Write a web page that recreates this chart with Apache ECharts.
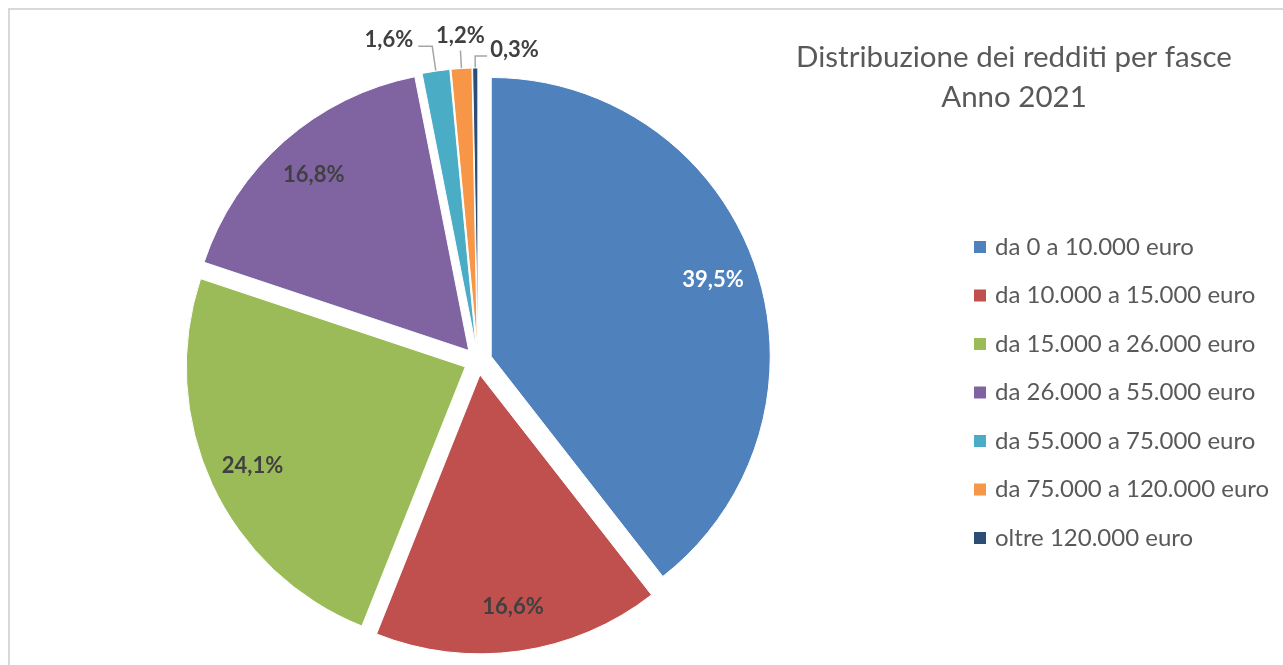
<!DOCTYPE html>
<html lang="it">
<head>
    <meta charset="UTF-8">
    <title>Distribuzione dei redditi per fasce</title>
    <script src="https://cdn.jsdelivr.net/npm/echarts@6/dist/echarts.min.js"></script>
    <style>
        html, body { margin: 0; padding: 0; background: #fff; }
        #chart { width: 1283px; height: 665px; }
    </style>
</head>
<body>
    <div id="chart"></div>
    <script>
        // Fasce di reddito e quota (%) dei contribuenti
        const fasce = [
            'da 0 a 10.000 euro',
            'da 10.000 a 15.000 euro',
            'da 15.000 a 26.000 euro',
            'da 26.000 a 55.000 euro',
            'da 55.000 a 75.000 euro',
            'da 75.000 a 120.000 euro',
            'oltre 120.000 euro'
        ];
        const quote = [39.5, 16.6, 24.1, 16.8, 1.6, 1.2, 0.3];
        const colori = ['#4F81BD', '#C0504D', '#9BBB59', '#8064A2', '#4BACC6', '#F79646', '#2C4D75'];
        const coloriEtichetta = ['#FFFFFF', '#404040', '#404040', '#404040', '#404040', '#404040', '#404040'];
        // le fette piccole hanno l'etichetta fuori con linea guida
        const etichettaFuori = [false, false, false, false, true, true, true];
        const lineaGuida = [null, null, null, null, [25, 14], [18, 0], [12, 12]];

        const fmt = v => v.toFixed(1).replace('.', ',') + '%';
        const labelFont = { fontFamily: 'Lato', fontWeight: 'bold', fontSize: 22 };

        const center = [478, 361];
        const R = 279;
        const offset = 14;

        const mainData = fasce.map((name, i) => ({
            name: name,
            value: quote[i],
            selected: true,
            itemStyle: { color: colori[i] },
            label: { show: etichettaFuori[i] },
            labelLine: lineaGuida[i]
                ? { show: true, length: lineaGuida[i][0], length2: lineaGuida[i][1] }
                : { show: false }
        }));

        // anello trasparente usato solo per posizionare le etichette interne
        const labelData = fasce.map((name, i) => ({
            name: name,
            value: quote[i],
            selected: true,
            label: { show: !etichettaFuori[i], color: coloriEtichetta[i] }
        }));

        const chart = echarts.init(document.getElementById('chart'));
        chart.setOption({
            animation: false,
            graphic: [
                {
                    type: 'rect',
                    z: -10,
                    shape: { x: 9, y: 9, width: 1400, height: 800 },
                    style: { fill: 'none', stroke: '#D9D9D9', lineWidth: 2 }
                },
                {
                    type: 'text',
                    x: 1014,
                    y: 37,
                    style: {
                        text: 'Distribuzione dei redditi per fasce\nAnno 2021',
                        align: 'center',
                        verticalAlign: 'top',
                        fontFamily: 'Lato',
                        fontSize: 29.5,
                        lineHeight: 40,
                        fill: '#595959'
                    }
                }
            ],
            legend: {
                orient: 'vertical',
                left: 972,
                top: 234,
                padding: 0,
                data: fasce,
                icon: 'rect',
                itemWidth: 14,
                itemHeight: 14,
                itemGap: 22.5,
                selectedMode: false,
                textStyle: { fontFamily: 'Lato', fontSize: 24, lineHeight: 26, color: '#595959', padding: [0, 0, 0, 3] }
            },
            series: [
                {
                    type: 'pie',
                    center: center,
                    radius: [0, R],
                    startAngle: 90,
                    clockwise: true,
                    selectedMode: 'multiple',
                    selectedOffset: offset,
                    avoidLabelOverlap: false,
                    silent: true,
                    itemStyle: { borderColor: '#fff', borderWidth: 1 },
                    label: Object.assign({ position: 'outside', color: '#404040', formatter: p => fmt(p.value), distanceToLabelLine: 5 }, labelFont),
                    labelLine: { lineStyle: { color: '#A6A6A6', width: 1.5 } },
                    labelLayout: function (p) {
                        const pts = p.labelLinePoints;
                        const w = p.labelRect.width;
                        const h = p.labelRect.height;
                        if (!pts) return {};
                        if (p.dataIndex === 5) {
                            // sopra la linea verticale, centrata
                            return { dx: 5 + w / 2, dy: -(h / 2 + 4) };
                        }
                        if (p.dataIndex === 6) {
                            // a destra della fetta
                            const len = Math.abs(pts[1][0] - pts[2][0]);
                            return {
                                dx: 2 * len + 8 + w,
                                dy: -6,
                                labelLinePoints: [pts[0], pts[1], [pts[1][0] + len, pts[1][1]]]
                            };
                        }
                        return { dy: -6 };
                    },
                    data: mainData
                },
                {
                    type: 'pie',
                    center: center,
                    radius: [R * 0.66, R],
                    startAngle: 90,
                    clockwise: true,
                    selectedMode: 'multiple',
                    selectedOffset: offset,
                    silent: true,
                    itemStyle: { color: 'rgba(0,0,0,0)', borderWidth: 0 },
                    label: Object.assign({ position: 'inside', formatter: p => fmt(p.value) }, labelFont),
                    labelLine: { show: false },
                    data: labelData
                }
            ]
        });
    </script>
</body>
</html>
